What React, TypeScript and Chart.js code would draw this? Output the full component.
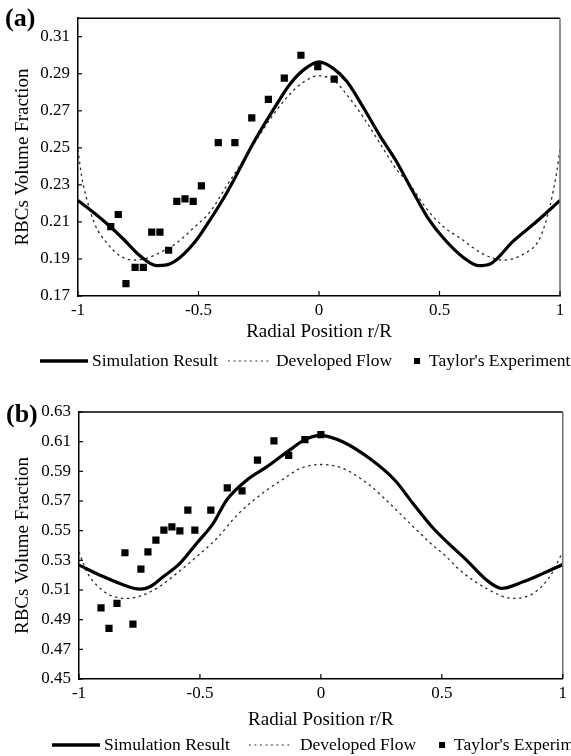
import React, { useEffect, useRef } from "react";
import { Chart, registerables } from "chart.js";

Chart.register(...registerables);

const FONT = "'Liberation Serif', 'Times New Roman', Times, serif";
Chart.defaults.font.family = FONT;
Chart.defaults.color = "#000";

// ---------- shared text ----------
const xTitle = "Radial Position r/R";
const yTitle = "RBCs Volume Fraction";
const legendLabels = ["Simulation Result", "Developed Flow", "Taylor's Experiment"];
const xTicks = [-1, -0.5, 0, 0.5, 1];

// ---------- panel (a) ----------
const yTicksA = [0.17, 0.19, 0.21, 0.23, 0.25, 0.27, 0.29, 0.31];
const simXA = [-1, -0.93, -0.867, -0.81, -0.743, -0.673, -0.632, -0.577, -0.507, -0.452, -0.397, -0.354, -0.273, -0.19, -0.12, -0.06, 0, 0.059, 0.115, 0.184, 0.253, 0.322, 0.391, 0.45, 0.516, 0.599, 0.661, 0.71, 0.806, 0.903, 1];
const simYA = [0.2216, 0.2145, 0.2075, 0.2005, 0.1917, 0.1864, 0.1868, 0.1908, 0.2005, 0.2111, 0.2225, 0.2325, 0.2525, 0.2705, 0.2845, 0.2925, 0.2964, 0.2929, 0.2859, 0.2718, 0.2565, 0.2425, 0.226, 0.2125, 0.2013, 0.1908, 0.1864, 0.1873, 0.1996, 0.2102, 0.2216];
const devXA = [-1, -0.985, -0.964, -0.929, -0.881, -0.826, -0.77, -0.715, -0.66, -0.59, -0.522, -0.452, -0.383, -0.3, -0.2, -0.134, -0.07, 0, 0.066, 0.115, 0.184, 0.253, 0.322, 0.378, 0.45, 0.52, 0.585, 0.682, 0.765, 0.848, 0.917, 0.959, 0.986, 1];
const devYA = [0.249, 0.2348, 0.2225, 0.2084, 0.1987, 0.1917, 0.1894, 0.1904, 0.1934, 0.1987, 0.2066, 0.2154, 0.2295, 0.246, 0.266, 0.2771, 0.285, 0.2889, 0.2859, 0.2788, 0.2665, 0.2524, 0.2383, 0.23, 0.2165, 0.207, 0.2013, 0.1926, 0.1894, 0.1926, 0.2013, 0.219, 0.2366, 0.249];
const expXA = [-0.864, -0.833, -0.801, -0.763, -0.729, -0.694, -0.66, -0.624, -0.59, -0.556, -0.522, -0.488, -0.418, -0.349, -0.279, -0.21, -0.144, -0.075, -0.005, 0.063];
const expYA = [0.2075, 0.214, 0.1767, 0.1855, 0.1855, 0.2045, 0.2045, 0.1947, 0.2211, 0.2225, 0.2211, 0.2295, 0.2528, 0.2528, 0.2662, 0.2762, 0.2877, 0.3, 0.2938, 0.2871];

// ---------- panel (b) ----------
const yTicksB = [0.45, 0.47, 0.49, 0.51, 0.53, 0.55, 0.57, 0.59, 0.61, 0.63];
const simXB = [-1, -0.913, -0.831, -0.748, -0.707, -0.652, -0.583, -0.514, -0.445, -0.39, -0.307, -0.224, -0.128, -0.066, 0, 0.092, 0.202, 0.306, 0.38, 0.46, 0.55, 0.6, 0.685, 0.747, 0.836, 0.919, 1];
const simYB = [0.5268, 0.52, 0.5144, 0.5106, 0.5122, 0.5189, 0.5279, 0.5414, 0.5549, 0.5705, 0.584, 0.593, 0.6045, 0.6114, 0.6143, 0.6098, 0.5986, 0.584, 0.5685, 0.5525, 0.538, 0.5305, 0.5167, 0.5111, 0.5155, 0.5212, 0.5272];
const devXB = [-1, -0.968, -0.927, -0.872, -0.803, -0.748, -0.679, -0.596, -0.514, -0.431, -0.34, -0.224, -0.142, -0.087, 0, 0.092, 0.202, 0.299, 0.38, 0.45, 0.519, 0.574, 0.685, 0.795, 0.877, 0.946, 1];
const devYB = [0.5357, 0.5223, 0.5133, 0.5066, 0.5043, 0.5059, 0.5111, 0.5212, 0.5324, 0.5447, 0.5616, 0.5773, 0.5862, 0.5919, 0.5946, 0.5919, 0.5806, 0.566, 0.553, 0.542, 0.5324, 0.5235, 0.511, 0.5043, 0.5077, 0.5189, 0.5357];
const expXB = [-0.909, -0.876, -0.843, -0.81, -0.777, -0.744, -0.715, -0.682, -0.649, -0.616, -0.583, -0.55, -0.521, -0.455, -0.387, -0.326, -0.262, -0.194, -0.133, -0.066, 0];
const expYB = [0.498, 0.4841, 0.501, 0.5351, 0.487, 0.5241, 0.5357, 0.5436, 0.5503, 0.5526, 0.5499, 0.5638, 0.5503, 0.5638, 0.5788, 0.5768, 0.5975, 0.6105, 0.6008, 0.6114, 0.6148];

const zip = (xs: number[], ys: number[]) => xs.map((x, i) => ({ x, y: ys[i] }));

type LegendItemLayout = { len: number; gapText: number; gapNext: number };
type PanelCfg = {
  label: string;
  labelX: number;
  labelY: number;
  sim: { x: number; y: number }[];
  dev: { x: number; y: number }[];
  exp: { x: number; y: number }[];
  yMin: number;
  yMax: number;
  yTicks: number[];
  height: number;
  padTop: number;
  padRight: number;
  padBottom: number;
  yAxisWidth: number;
  xAxisHeight: number;
  legendX: number;
  legendY: number;
  legendItems: LegendItemLayout[];
};

function makePlugin(cfg: PanelCfg) {
  return {
    id: "frameAndLegend",
    afterDraw(chart: any) {
      const { ctx, chartArea, scales } = chart;
      const { left, right, top, bottom } = chartArea;
      ctx.save();
      // top & right frame
      ctx.lineWidth = 1.5;
      ctx.strokeStyle = "#000";
      ctx.beginPath();
      ctx.moveTo(left - 0.75, top);
      ctx.lineTo(right, top);
      ctx.stroke();
      ctx.strokeStyle = "#6e6e6e";
      ctx.beginPath();
      ctx.moveTo(right, top);
      ctx.lineTo(right, bottom);
      ctx.stroke();
      // inward tick marks
      ctx.strokeStyle = "#000";
      ctx.lineWidth = 1.2;
      xTicks.forEach((v) => {
        const px = scales.x.getPixelForValue(v);
        ctx.beginPath();
        ctx.moveTo(px, bottom);
        ctx.lineTo(px, bottom - 5);
        ctx.stroke();
      });
      cfg.yTicks.forEach((v) => {
        const py = scales.y.getPixelForValue(v);
        ctx.beginPath();
        ctx.moveTo(left, py);
        ctx.lineTo(left + 4, py);
        ctx.stroke();
      });
      // panel label
      ctx.fillStyle = "#000";
      ctx.font = `bold 26px ${FONT}`;
      ctx.textBaseline = "alphabetic";
      ctx.textAlign = "left";
      ctx.fillText(cfg.label, cfg.labelX, cfg.labelY);
      // legend
      ctx.font = `17.5px ${FONT}`;
      ctx.textBaseline = "middle";
      let x = cfg.legendX;
      const y = cfg.legendY;
      cfg.legendItems.forEach((it, i) => {
        if (i === 0) {
          ctx.strokeStyle = "#000";
          ctx.lineWidth = 3.5;
          ctx.setLineDash([]);
          ctx.beginPath();
          ctx.moveTo(x, y);
          ctx.lineTo(x + it.len, y);
          ctx.stroke();
        } else if (i === 1) {
          ctx.strokeStyle = "#333";
          ctx.lineWidth = 1;
          ctx.setLineDash([2, 3.5]);
          ctx.beginPath();
          ctx.moveTo(x, y);
          ctx.lineTo(x + it.len, y);
          ctx.stroke();
          ctx.setLineDash([]);
        } else {
          ctx.fillStyle = "#000";
          ctx.fillRect(x, y - it.len / 2, it.len, it.len);
        }
        x += it.len + it.gapText;
        ctx.fillStyle = "#000";
        ctx.fillText(legendLabels[i], x, y);
        x += ctx.measureText(legendLabels[i]).width + it.gapNext;
      });
      ctx.restore();
    },
  };
}

function Panel({ cfg, top }: { cfg: PanelCfg; top: number }) {
  const ref = useRef<HTMLCanvasElement | null>(null);
  useEffect(() => {
    if (!ref.current) return;
    const chart = new Chart(ref.current, {
      type: "line",
      data: {
        datasets: [
          {
            label: legendLabels[2],
            data: cfg.exp,
            showLine: false,
            pointStyle: "rect",
            pointRadius: 5.1,
            pointBackgroundColor: "#000",
            pointBorderWidth: 0,
            borderColor: "#000",
            order: 0,
          },
          {
            label: legendLabels[0],
            data: cfg.sim,
            borderColor: "#000",
            borderWidth: 3.2,
            pointRadius: 0,
            cubicInterpolationMode: "monotone",
            fill: false,
            order: 1,
          },
          {
            label: legendLabels[1],
            data: cfg.dev,
            borderColor: "#2a2a2a",
            borderWidth: 1.3,
            borderDash: [2.5, 3.5],
            pointRadius: 0,
            cubicInterpolationMode: "monotone",
            fill: false,
            order: 2,
          },
        ],
      } as any,
      options: {
        responsive: false,
        animation: false,
        events: [],
        layout: {
          padding: { top: cfg.padTop, right: cfg.padRight, bottom: cfg.padBottom, left: 0 },
        },
        plugins: {
          legend: { display: false },
          tooltip: { enabled: false },
          title: { display: false },
        },
        scales: {
          x: {
            type: "linear",
            min: -1,
            max: 1,
            afterBuildTicks: (s: any) => {
              s.ticks = xTicks.map((v) => ({ value: v }));
            },
            afterFit: (s: any) => {
              s.height = cfg.xAxisHeight;
            },
            ticks: {
              callback: (v: any) => String(v),
              font: { size: 17, family: FONT },
              color: "#000",
              padding: 4,
              maxRotation: 0,
              autoSkip: false,
            },
            grid: { display: false, drawTicks: false },
            border: { display: true, color: "#000", width: 1.5 },
            title: {
              display: true,
              text: xTitle,
              font: { size: 19, family: FONT },
              color: "#000",
              padding: { top: 0, bottom: 0 },
            },
          },
          y: {
            type: "linear",
            min: cfg.yMin,
            max: cfg.yMax,
            afterBuildTicks: (s: any) => {
              s.ticks = cfg.yTicks.map((v) => ({ value: v }));
            },
            afterFit: (s: any) => {
              s.width = cfg.yAxisWidth;
            },
            ticks: {
              callback: (v: any) => Number(v).toFixed(2),
              font: { size: 17, family: FONT },
              color: "#000",
              padding: 8,
              autoSkip: false,
            },
            grid: { display: false, drawTicks: false },
            border: { display: true, color: "#000", width: 1.5 },
            title: {
              display: true,
              text: yTitle,
              font: { size: 19, family: FONT },
              color: "#000",
              padding: { top: 12, bottom: 0 },
            },
          },
        },
      } as any,
      plugins: [makePlugin(cfg)],
    });
    return () => chart.destroy();
  }, [cfg]);
  return (
    <div style={{ position: "absolute", left: 0, top, width: 571, height: cfg.height }}>
      <canvas ref={ref} width={571} height={cfg.height} style={{ display: "block" }} />
    </div>
  );
}

const cfgA: PanelCfg = {
  label: "(a)",
  labelX: 5,
  labelY: 26,
  sim: zip(simXA, simYA),
  dev: zip(devXA, devYA),
  exp: zip(expXA, expYA),
  yMin: 0.17,
  yMax: 0.32,
  yTicks: yTicksA,
  height: 378,
  padTop: 12,
  padRight: 11,
  padBottom: 35,
  yAxisWidth: 78,
  xAxisHeight: 47,
  legendX: 40,
  legendY: 361,
  legendItems: [
    { len: 48, gapText: 4, gapNext: 10 },
    { len: 42, gapText: 6, gapNext: 22 },
    { len: 6, gapText: 9, gapNext: 0 },
  ],
};

const cfgB: PanelCfg = {
  label: "(b)",
  labelX: 6,
  labelY: 44,
  sim: zip(simXB, simYB),
  dev: zip(devXB, devYB),
  exp: zip(expXB, expYB),
  yMin: 0.45,
  yMax: 0.63,
  yTicks: yTicksB,
  height: 378,
  padTop: 34,
  padRight: 8,
  padBottom: 25,
  yAxisWidth: 79,
  xAxisHeight: 52,
  legendX: 52,
  legendY: 367,
  legendItems: [
    { len: 48, gapText: 4, gapNext: 19 },
    { len: 43, gapText: 8, gapNext: 23 },
    { len: 6, gapText: 9, gapNext: 0 },
  ],
};

export default function App() {
  return (
    <div style={{ position: "absolute", left: 0, top: 0, width: 571, height: 756, overflow: "hidden", background: "#fff" }}>
      <Panel cfg={cfgA} top={0} />
      <Panel cfg={cfgB} top={378} />
    </div>
  );
}
